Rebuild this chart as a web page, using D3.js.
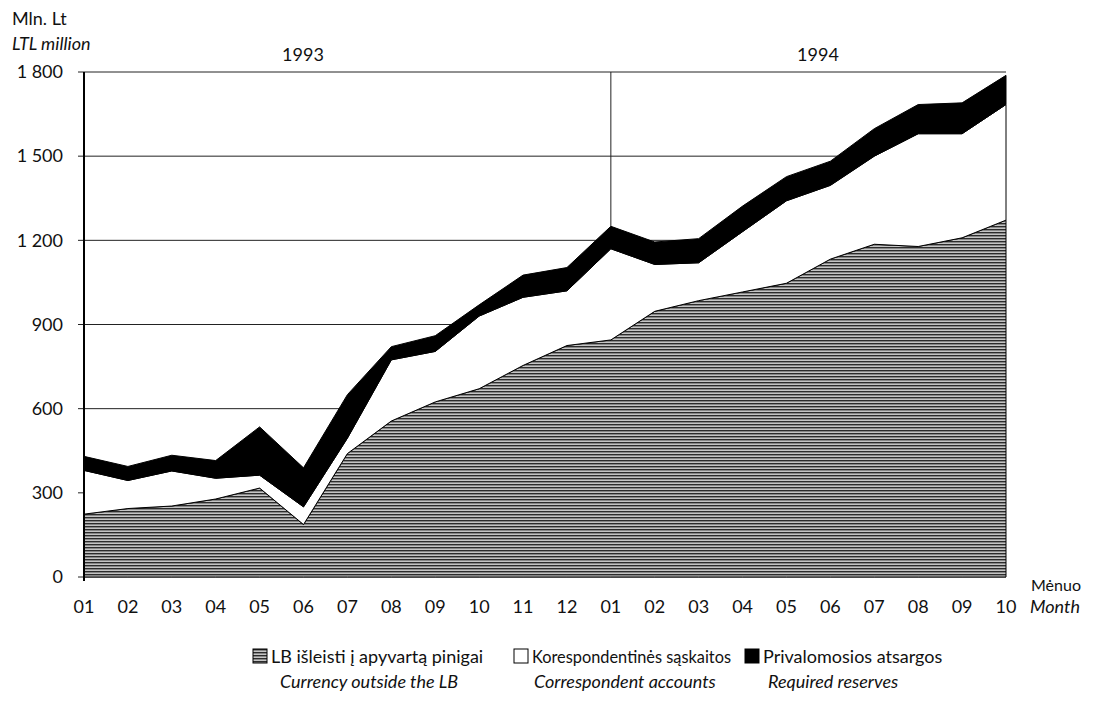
<!DOCTYPE html>
<html>
<head>
<meta charset="utf-8">
<script src="https://cdn.jsdelivr.net/npm/d3@7"></script>
<style>
  body { margin: 0; background: #fff; }
  text { font-family: Lato, "Open Sans", sans-serif; fill: #111; }
</style>
</head>
<body>
<div></div>
<script>
// months Jan 1993 .. Oct 1994
var months = ["01","02","03","04","05","06","07","08","09","10","11","12",
              "01","02","03","04","05","06","07","08","09","10"];
var years = ["1993", "1994"];
var yTicks = [0, 300, 600, 900, 1200, 1500, 1800];

// LTL million
var currency = [224, 244, 253, 278, 317, 187, 440, 556, 624, 671, 754, 825,
                845, 947, 985, 1016, 1047, 1133, 1186, 1178, 1209, 1272];
var correspondent = [156, 100, 125, 74, 46, 63, 55, 218, 180, 259, 243, 195,
                     325, 167, 135, 215, 294, 263, 314, 402, 371, 412];
var reserves = [50, 50, 56, 63, 172, 139, 155, 47, 56, 40, 79, 83,
                80, 80, 86, 91, 86, 86, 98, 104, 110, 104];

var legendLt = ["LB išleisti į apyvartą pinigai", "Korespondentinės sąskaitos", "Privalomosios atsargos"];
var legendEn = ["Currency  outside the LB", "Correspondent accounts", "Required reserves"];

var W = 1099, H = 715;
var plotL = 84, plotR = 1006, plotT = 72, plotB = 577;

var svg = d3.select("div").append("svg")
    .attr("width", W)
    .attr("height", H);

var defs = svg.append("defs");
var pat = defs.append("pattern")
    .attr("id", "stripes")
    .attr("patternUnits", "userSpaceOnUse")
    .attr("width", 6).attr("height", 3);
pat.append("rect").attr("width", 6).attr("height", 3).attr("fill", "#c4c4c4");
pat.append("rect").attr("y", 1).attr("width", 6).attr("height", 1.4).attr("fill", "#2c2c2c");

var x = d3.scaleLinear().domain([0, months.length - 1]).range([plotL, plotR]);
var y = d3.scaleLinear().domain([0, 1800]).range([plotB, plotT]);

var rows = months.map(function(m, i) {
    return {i: i, currency: currency[i], correspondent: correspondent[i], reserves: reserves[i]};
});
var keys = ["currency", "correspondent", "reserves"];
var fills = ["url(#stripes)", "#fff", "#000"];
var series = d3.stack().keys(keys)(rows);

// gridlines under the areas
svg.append("g")
    .selectAll("line")
    .data(yTicks)
    .join("line")
    .attr("x1", plotL - 6).attr("x2", plotR)
    .attr("y1", function(d) { return y(d); })
    .attr("y2", function(d) { return y(d); })
    .attr("stroke", "#222")
    .attr("stroke-width", 1);

// 1993/1994 divider
var total = series[2];
svg.append("line")
    .attr("x1", x(12)).attr("x2", x(12))
    .attr("y1", y(1800)).attr("y2", y(total[12][1]))
    .attr("stroke", "#222").attr("stroke-width", 1);

var area = d3.area()
    .x(function(d) { return x(d.data.i); })
    .y0(function(d) { return y(d[0]); })
    .y1(function(d) { return y(d[1]); });

svg.append("g")
    .selectAll("path")
    .data(series)
    .join("path")
    .attr("d", area)
    .attr("fill", function(d, i) { return fills[i]; })
    .attr("stroke", "#000")
    .attr("stroke-width", 1);

// left axis line
svg.append("line")
    .attr("x1", plotL).attr("x2", plotL)
    .attr("y1", plotT).attr("y2", plotB + 4)
    .attr("stroke", "#000").attr("stroke-width", 2);

// y labels
svg.append("g")
    .selectAll("text")
    .data(yTicks)
    .join("text")
    .attr("x", 63)
    .attr("y", function(d) { return y(d); })
    .attr("dy", "0.35em")
    .attr("text-anchor", "end")
    .style("font-size", "18px")
    .text(function(d) { return d3.format(",")(d).replace(",", " "); });

// x labels
svg.append("g")
    .selectAll("text")
    .data(months)
    .join("text")
    .attr("x", function(d, i) { return x(i); })
    .attr("y", 613)
    .attr("text-anchor", "middle")
    .style("font-size", "18px")
    .text(function(d) { return d; });

svg.append("text").attr("x", 1031).attr("y", 591).style("font-size", "16px").text("Mėnuo");
svg.append("text").attr("x", 1030).attr("y", 613).style("font-size", "18px").style("font-style", "italic").text("Month");

svg.append("text").attr("x", 12).attr("y", 25).style("font-size", "18px").text("Mln. Lt");
svg.append("text").attr("x", 12).attr("y", 50).style("font-size", "18px").style("font-style", "italic").text("LTL million");

svg.append("g")
    .selectAll("text")
    .data(years)
    .join("text")
    .attr("x", function(d, i) { return i === 0 ? 303 : 818; })
    .attr("y", 61)
    .attr("text-anchor", "middle")
    .style("font-size", "18px")
    .text(function(d) { return d; });

// legend: box positions as in the reference, squeeze a label if it runs into the next box
var legX = [253, 514, 745];
var enOffset = [9, 2, 5];
legendLt.forEach(function(name, i) {
    var g = svg.append("g").attr("transform", "translate(" + legX[i] + ",0)");
    g.append("rect")
        .attr("x", 0).attr("y", 649)
        .attr("width", 14).attr("height", 14)
        .attr("fill", fills[i])
        .attr("stroke", "#000").attr("stroke-width", 1);
    var t = g.append("text")
        .attr("x", 18).attr("y", 663)
        .style("font-size", "18px")
        .text(name);
    if (i < legX.length - 1) {
        var room = legX[i + 1] - legX[i] - 18 - 14;
        if (t.node().getComputedTextLength() > room) {
            t.attr("textLength", room).attr("lengthAdjust", "spacingAndGlyphs");
        }
    }
    g.append("text")
        .attr("x", 18 + enOffset[i]).attr("y", 688)
        .style("font-size", "18px")
        .style("font-style", "italic")
        .text(legendEn[i]);
});
</script>
</body>
</html>
